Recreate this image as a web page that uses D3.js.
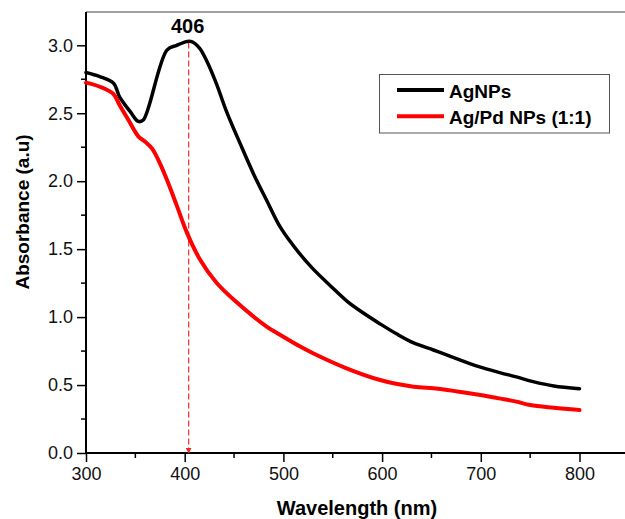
<!DOCTYPE html>
<html>
<head>
<meta charset="utf-8">
<script src="https://cdn.jsdelivr.net/npm/d3@7"></script>
<style>
  body { margin: 0; background: #fff; }
  svg { display: block; font-family: Arial, "Liberation Sans", Helvetica, sans-serif; }
</style>
</head>
<body>
<svg id="chart" width="625" height="519"></svg>
<script>
// wavelength (nm) and absorbance
const agWave = [300, 314, 328, 334, 345, 353, 358, 382, 392, 402, 407, 415, 422, 432, 442, 456, 470, 483, 497, 515, 530, 547, 564, 581, 598, 615, 632, 652, 666, 698, 720, 736, 753, 774, 800]
const agAbs  = [2.80, 2.77, 2.72, 2.62, 2.51, 2.44, 2.45, 2.965, 3.0, 3.027, 3.027, 2.98, 2.89, 2.72, 2.52, 2.28, 2.05, 1.86, 1.66, 1.48, 1.355, 1.235, 1.12, 1.03, 0.95, 0.875, 0.81, 0.758, 0.72, 0.635, 0.59, 0.56, 0.525, 0.493, 0.473]

const agPdWave = [300, 314, 328, 334, 343, 353, 360, 367, 375, 382, 392, 402, 415, 432, 451, 483, 497, 517, 530, 564, 598, 632, 652, 666, 698, 720, 736, 750, 774, 800]
const agPdAbs  = [2.725, 2.695, 2.64, 2.56, 2.45, 2.33, 2.29, 2.24, 2.13, 2.01, 1.82, 1.625, 1.43, 1.255, 1.12, 0.93, 0.868, 0.783, 0.734, 0.623, 0.537, 0.488, 0.476, 0.464, 0.428, 0.40, 0.378, 0.353, 0.333, 0.316]

const seriesNames = ["AgNPs", "Ag/Pd NPs (1:1)"]
const seriesColors = ["#000000", "#ff0000"]
const xTicks = [300, 400, 500, 600, 700, 800]
const yTicks = [0.0, 0.5, 1.0, 1.5, 2.0, 2.5, 3.0]
const peakWave = 404
const peakLabel = "406"

const svg = d3.select("#chart")
const plotLeft = 86, plotTop = 12, plotBottom = 453

let x = d3.scaleLinear().domain([300, 850]).range([plotLeft, plotLeft + 550 * 0.987])
let y = d3.scaleLinear().domain([0, 3.245]).range([plotBottom, plotTop])

// top frame (grey)
svg.append("line")
  .attr("x1", plotLeft).attr("x2", 625)
  .attr("y1", plotTop).attr("y2", plotTop)
  .attr("stroke", "#808080").attr("stroke-width", 1.5)

// minor ticks
let xMinor = d3.range(350, 850, 100)
let yMinor = d3.range(0.25, 3.25, 0.5)

let xAxis = svg.append("g").attr("transform", `translate(0,${plotBottom})`)
xAxis.call(d3.axisBottom(x).tickValues(xTicks).tickSize(9).tickPadding(5).tickFormat(d3.format("d")))
xAxis.selectAll(".minor").data(xMinor).enter().append("line")
  .attr("x1", d => x(d)).attr("x2", d => x(d))
  .attr("y1", 0).attr("y2", 5)
  .attr("stroke", "#000").attr("stroke-width", 1.5)

let yAxis = svg.append("g").attr("transform", `translate(${plotLeft},0)`)
yAxis.call(d3.axisLeft(y).tickValues(yTicks).tickSize(9).tickPadding(4).tickFormat(d3.format(".1f")))
yAxis.selectAll(".minor").data(yMinor).enter().append("line")
  .attr("x1", 0).attr("x2", -5)
  .attr("y1", d => y(d)).attr("y2", d => y(d))
  .attr("stroke", "#000").attr("stroke-width", 1.5)

for (let g of [xAxis, yAxis]) {
  g.select(".domain").attr("stroke", "#000").attr("stroke-width", 2)
  g.selectAll(".tick line").attr("stroke", "#000").attr("stroke-width", 1.5)
  g.selectAll(".tick text").attr("fill", "#111").style("font-size", "18px")
}
// x axis line runs to the edge of the picture
xAxis.select(".domain").attr("d", `M${plotLeft},0H625`)
yAxis.select(".domain").attr("d", `M0,${plotBottom}V${plotTop}`)

// axis titles
svg.append("text")
  .attr("x", 357).attr("y", 515)
  .attr("text-anchor", "middle")
  .style("font-size", "20px").style("font-weight", "bold")
  .text("Wavelength (nm)")

svg.append("text")
  .attr("transform", "translate(29,212) rotate(-90)")
  .attr("text-anchor", "middle")
  .style("font-size", "19px").style("font-weight", "bold")
  .text("Absorbance (a.u)")

// peak marker: dashed red line with arrow
svg.append("defs").append("marker")
  .attr("id", "arrow")
  .attr("viewBox", "0 0 10 10")
  .attr("refX", 9).attr("refY", 5)
  .attr("markerWidth", 6).attr("markerHeight", 6)
  .attr("markerUnits", "userSpaceOnUse")
  .attr("orient", "auto")
  .append("path")
  .attr("d", "M0,0L10,5L0,10Z")
  .attr("fill", "#ff2020")

svg.append("line")
  .attr("x1", x(peakWave)).attr("x2", x(peakWave))
  .attr("y1", y(3.02)).attr("y2", plotBottom)
  .attr("stroke", "#ff3a3a").attr("stroke-width", 1.3)
  .attr("stroke-dasharray", "6,3")
  .attr("marker-end", "url(#arrow)")

svg.append("text")
  .attr("x", x(peakWave) - 1).attr("y", 33)
  .attr("text-anchor", "middle")
  .style("font-size", "20px").style("font-weight", "bold")
  .text(peakLabel)

// curves
let line = d3.line()
  .x(d => x(d[0]))
  .y(d => y(d[1]))
  .curve(d3.curveCatmullRom.alpha(0.5))

let series = [
  d3.zip(agWave, agAbs),
  d3.zip(agPdWave, agPdAbs)
]

series.forEach((s, i) => {
  svg.append("path")
    .attr("d", line(s))
    .attr("fill", "none")
    .attr("stroke", seriesColors[i])
    .attr("stroke-width", i == 0 ? 3.5 : 4)
    .attr("stroke-linecap", "round")
    .attr("stroke-linejoin", "round")
})

// legend
let legend = svg.append("g")
legend.append("rect")
  .attr("x", 379.5).attr("y", 74.5)
  .attr("width", 230).attr("height", 58.5)
  .attr("fill", "#fff")
  .attr("stroke", "#555").attr("stroke-width", 1)

seriesNames.forEach((name, i) => {
  let ly = 90 + i * 26.3
  legend.append("line")
    .attr("x1", 397).attr("x2", 444)
    .attr("y1", ly).attr("y2", ly)
    .attr("stroke", seriesColors[i]).attr("stroke-width", 4)
  legend.append("text")
    .attr("x", 449).attr("y", ly + 8)
    .style("font-size", "19px").style("font-weight", "bold")
    .text(name)
})
</script>
</body>
</html>
